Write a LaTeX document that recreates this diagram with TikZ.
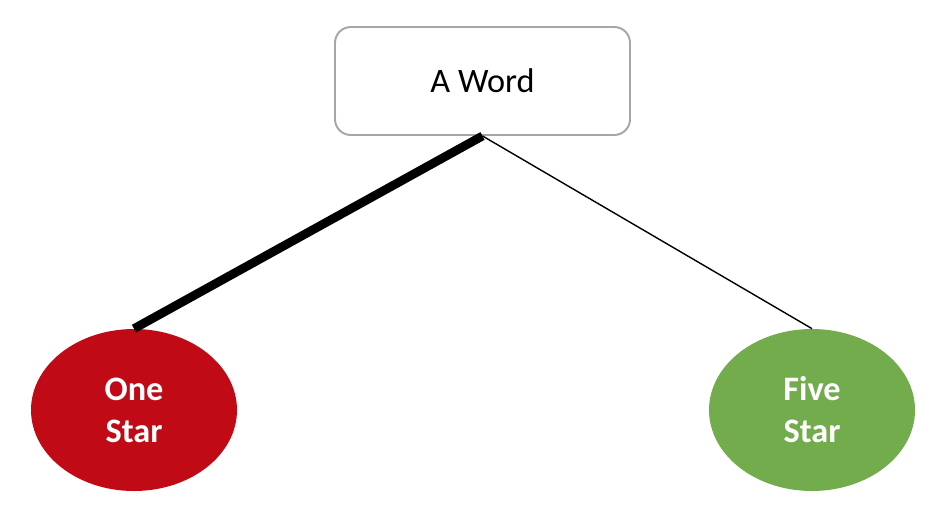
\documentclass[tikz,border=0pt]{standalone}
\usepackage{fontspec}
\setmainfont{Carlito}
\usetikzlibrary{shapes.geometric}
\usetikzlibrary{positioning}
\definecolor{boxgray}{HTML}{A6A6A6}
\definecolor{onered}{HTML}{C00A16}
\definecolor{fivegreen}{HTML}{72AC4D}
\tikzset{word node/.style={rectangle,rounded corners=9pt,draw=boxgray,line width=1.1pt,
            minimum width=5.9cm,minimum height=2.16cm,font=\fontsize{19.5}{24}\selectfont},
         star node/.style={ellipse,minimum width=4.12cm,minimum height=3.24cm,inner sep=0pt,
            text=white,align=center,font=\fontsize{19.5}{24}\selectfont\bfseries},
            }

\begin{document}
\begin{tikzpicture}
    \useasboundingbox (0,0) rectangle (18.92,-10.56);
    \node[word node] (word) at (9.65,-1.62) {A Word};
    \node[star node,fill=onered] (one) at (2.68,-8.2) {One\\Star};
    \node[star node,fill=fivegreen] (five) at (16.24,-8.2) {Five\\Star};

    \path[draw]
    (word.south) edge[line width=5pt] (one.north)
    (word.south) edge[line width=0.8pt] (five.north);
  \end{tikzpicture}
\end{document}
